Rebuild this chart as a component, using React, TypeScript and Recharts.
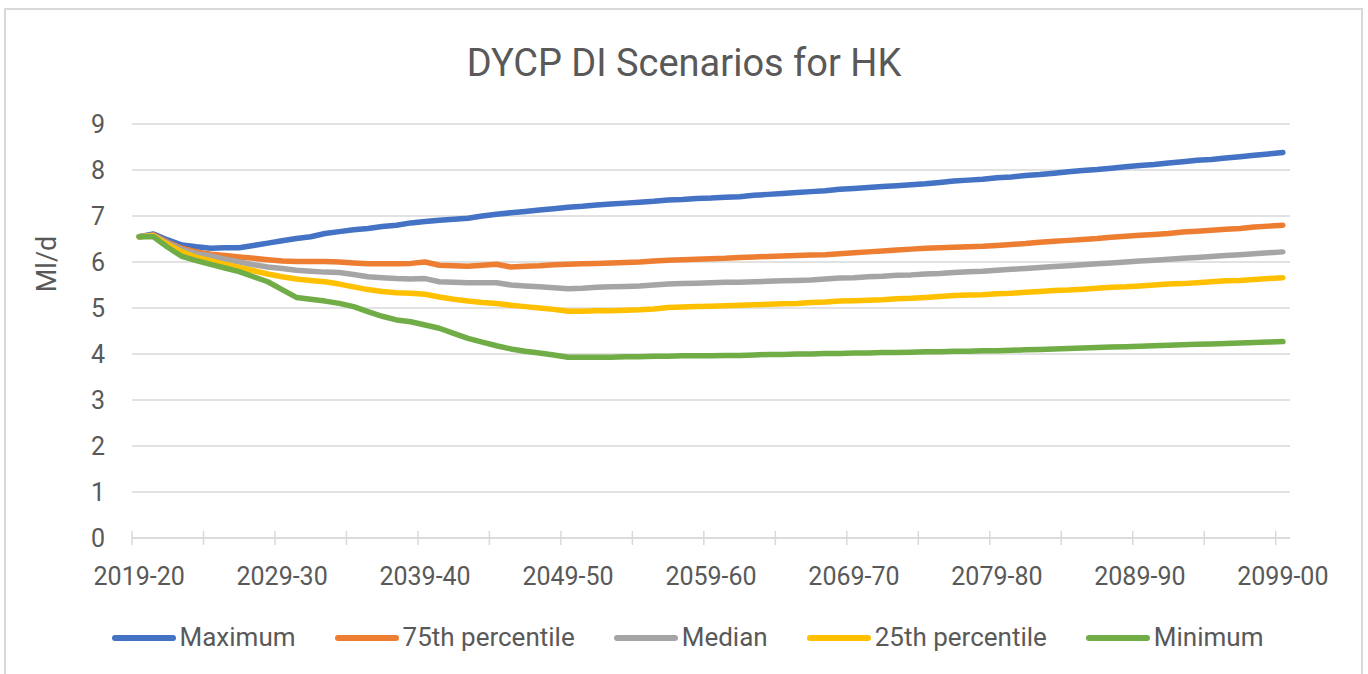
import { LineChart, Line, XAxis, YAxis, CartesianGrid } from 'recharts';

const FONT = 'Roboto, "Noto Sans", sans-serif';
const TEXT = '#595959';
const GRID = '#d9d9d9';

// plot area 132..1290 wide, 81 categories, points sit in the middle of each slot
const HALF_BAND = (1290 - 132) / 81 / 2;

const CATEGORIES: string[] = Array.from({ length: 81 }, (_, i) => {
  const y = 2019 + i;
  return `${y}-${String((y + 1) % 100).padStart(2, '0')}`;
});

const LABELED_TICKS = ['2019-20', '2029-30', '2039-40', '2049-50', '2059-60', '2069-70', '2079-80', '2089-90', '2099-00'];
const Y_TICKS = [0, 1, 2, 3, 4, 5, 6, 7, 8, 9];

const MAXIMUM = [
  6.55, 6.61, 6.48, 6.37, 6.33, 6.30, 6.31, 6.31, 6.36, 6.41,
  6.46, 6.51, 6.55, 6.62, 6.66, 6.70, 6.73, 6.77, 6.80, 6.85,
  6.88, 6.91, 6.93, 6.95, 7.00, 7.04, 7.07, 7.10, 7.13, 7.16,
  7.19, 7.21, 7.24, 7.26, 7.28, 7.30, 7.32, 7.35, 7.36, 7.38,
  7.39, 7.41, 7.42, 7.45, 7.47, 7.49, 7.51, 7.53, 7.55, 7.58,
  7.60, 7.62, 7.64, 7.66, 7.68, 7.70, 7.73, 7.76, 7.78, 7.80,
  7.83, 7.85, 7.88, 7.90, 7.93, 7.96, 7.99, 8.01, 8.04, 8.07,
  8.10, 8.12, 8.15, 8.18, 8.21, 8.23, 8.26, 8.29, 8.32, 8.35,
  8.38,
];

const P75 = [
  6.55, 6.59, 6.43, 6.30, 6.22, 6.17, 6.14, 6.11, 6.08, 6.05,
  6.02, 6.01, 6.01, 6.01, 6.00, 5.98, 5.96, 5.96, 5.96, 5.97,
  6.00, 5.93, 5.92, 5.91, 5.93, 5.95, 5.89, 5.91, 5.92, 5.94,
  5.95, 5.96, 5.97, 5.98, 5.99, 6.00, 6.02, 6.04, 6.05, 6.06,
  6.07, 6.08, 6.10, 6.11, 6.12, 6.13, 6.14, 6.15, 6.16, 6.18,
  6.20, 6.22, 6.24, 6.26, 6.28, 6.30, 6.31, 6.32, 6.33, 6.34,
  6.36, 6.38, 6.40, 6.43, 6.45, 6.47, 6.49, 6.51, 6.54, 6.56,
  6.58, 6.60, 6.62, 6.65, 6.67, 6.69, 6.71, 6.73, 6.76, 6.78,
  6.80,
];

const MEDIAN = [
  6.55, 6.58, 6.41, 6.27, 6.18, 6.13, 6.06, 6.00, 5.94, 5.89,
  5.86, 5.82, 5.80, 5.78, 5.77, 5.73, 5.68, 5.66, 5.64, 5.63,
  5.64, 5.57, 5.56, 5.55, 5.55, 5.55, 5.50, 5.48, 5.46, 5.44,
  5.42, 5.43, 5.45, 5.46, 5.47, 5.48, 5.50, 5.52, 5.53, 5.54,
  5.55, 5.56, 5.56, 5.57, 5.58, 5.59, 5.60, 5.61, 5.63, 5.65,
  5.66, 5.68, 5.69, 5.71, 5.72, 5.74, 5.75, 5.77, 5.79, 5.80,
  5.82, 5.84, 5.86, 5.88, 5.90, 5.92, 5.94, 5.96, 5.98, 6.00,
  6.02, 6.04, 6.06, 6.08, 6.10, 6.12, 6.14, 6.16, 6.18, 6.20,
  6.22,
];

const P25 = [
  6.55, 6.57, 6.38, 6.22, 6.10, 6.03, 5.95, 5.88, 5.81, 5.74,
  5.68, 5.63, 5.60, 5.57, 5.52, 5.46, 5.40, 5.36, 5.33, 5.32,
  5.30, 5.24, 5.19, 5.15, 5.12, 5.10, 5.06, 5.03, 5.00, 4.97,
  4.93, 4.93, 4.94, 4.94, 4.95, 4.96, 4.98, 5.01, 5.02, 5.03,
  5.04, 5.05, 5.06, 5.07, 5.08, 5.09, 5.10, 5.12, 5.13, 5.15,
  5.16, 5.17, 5.18, 5.20, 5.21, 5.23, 5.25, 5.27, 5.28, 5.29,
  5.31, 5.32, 5.34, 5.36, 5.38, 5.39, 5.41, 5.43, 5.45, 5.46,
  5.48, 5.50, 5.52, 5.53, 5.55, 5.57, 5.59, 5.60, 5.62, 5.64,
  5.66,
];

const MINIMUM = [
  6.55, 6.55, 6.32, 6.12, 6.03, 5.95, 5.87, 5.79, 5.68, 5.57,
  5.40, 5.23, 5.19, 5.15, 5.10, 5.03, 4.92, 4.82, 4.74, 4.70,
  4.63, 4.56, 4.45, 4.34, 4.26, 4.18, 4.11, 4.06, 4.02, 3.98,
  3.93, 3.93, 3.93, 3.93, 3.94, 3.94, 3.95, 3.95, 3.96, 3.96,
  3.96, 3.97, 3.97, 3.98, 3.99, 3.99, 4.00, 4.00, 4.01, 4.01,
  4.02, 4.02, 4.03, 4.03, 4.04, 4.05, 4.05, 4.06, 4.06, 4.07,
  4.07, 4.08, 4.09, 4.10, 4.11, 4.12, 4.13, 4.14, 4.15, 4.16,
  4.17, 4.18, 4.19, 4.20, 4.21, 4.22, 4.23, 4.24, 4.25, 4.26,
  4.27,
];

const SERIES = [
  { key: 'max', name: 'Maximum', color: '#4472C4', values: MAXIMUM },
  { key: 'p75', name: '75th percentile', color: '#ED7D31', values: P75 },
  { key: 'median', name: 'Median', color: '#A5A5A5', values: MEDIAN },
  { key: 'p25', name: '25th percentile', color: '#FFC000', values: P25 },
  { key: 'min', name: 'Minimum', color: '#70AD47', values: MINIMUM },
];

const data = CATEGORIES.map((year, i) => {
  const row: Record<string, string | number> = { year };
  SERIES.forEach((s) => {
    row[s.key] = s.values[i];
  });
  return row;
});

// cross-style tick mark on the slot boundary, label only every 10 years
function XTick(props: any) {
  const { x, y, payload } = props;
  const showLabel = LABELED_TICKS.includes(payload.value);
  return (
    <g>
      <line x1={x - HALF_BAND} x2={x - HALF_BAND} y1={y - 7} y2={y + 7} stroke={GRID} strokeWidth={1.5} />
      {showLabel && (
        <text x={x} y={y + 47} textAnchor="middle" fill={TEXT} fontSize={25} fontFamily={FONT}>
          {payload.value}
        </text>
      )}
    </g>
  );
}

export default function App() {
  return (
    <div style={{ position: 'absolute', left: 0, top: 0, width: 1368, height: 674, overflow: 'hidden', background: '#fff' }}>
      <div
        style={{
          position: 'absolute',
          left: 4,
          top: 8,
          width: 1359,
          height: 720,
          border: `2px solid ${GRID}`,
          boxSizing: 'border-box',
        }}
      />
      <div
        style={{
          position: 'absolute',
          left: 0,
          top: 44,
          width: 1368,
          textAlign: 'center',
          fontFamily: FONT,
          fontSize: 38,
          lineHeight: '38px',
          color: TEXT,
        }}
      >
        DYCP DI Scenarios for HK
      </div>
      <div
        style={{
          position: 'absolute',
          left: 47,
          top: 264,
          transform: 'translate(-50%, -50%) rotate(-90deg)',
          fontFamily: FONT,
          fontSize: 27,
          lineHeight: '27px',
          color: TEXT,
          whiteSpace: 'nowrap',
        }}
      >
        Ml/d
      </div>
      <div style={{ position: 'absolute', left: 0, top: 0 }}>
        <LineChart width={1368} height={674} data={data} margin={{ top: 124, right: 78, bottom: 76, left: 72 }}>
          <CartesianGrid vertical={false} stroke={GRID} strokeWidth={1.5} />
          <XAxis
            dataKey="year"
            height={60}
            interval={4}
            padding={{ left: HALF_BAND, right: HALF_BAND }}
            axisLine={{ stroke: GRID, strokeWidth: 1.5 }}
            tickLine={false}
            tickSize={0}
            tickMargin={0}
            tick={<XTick />}
          />
          <YAxis
            width={60}
            domain={[0, 9]}
            ticks={Y_TICKS}
            interval={0}
            axisLine={false}
            tickLine={false}
            tickSize={0}
            tickMargin={27}
            tick={{ fill: TEXT, fontSize: 25, fontFamily: FONT }}
          />
          {SERIES.map((s) => (
            <Line
              key={s.key}
              type="linear"
              dataKey={s.key}
              name={s.name}
              stroke={s.color}
              strokeWidth={5.5}
              strokeLinecap="round"
              strokeLinejoin="round"
              dot={false}
              activeDot={false}
              isAnimationActive={false}
            />
          ))}
        </LineChart>
      </div>
      <div
        style={{
          position: 'absolute',
          left: 8,
          top: 623,
          width: 1359,
          display: 'flex',
          justifyContent: 'center',
          alignItems: 'center',
          gap: 39,
          fontFamily: FONT,
          fontSize: 26,
          lineHeight: '29px',
          color: TEXT,
        }}
      >
        {SERIES.map((s) => (
          <div key={s.key} style={{ display: 'flex', alignItems: 'center', gap: 4 }}>
            <span style={{ display: 'inline-block', width: 64, height: 6, borderRadius: 3, background: s.color }} />
            <span>{s.name}</span>
          </div>
        ))}
      </div>
    </div>
  );
}
